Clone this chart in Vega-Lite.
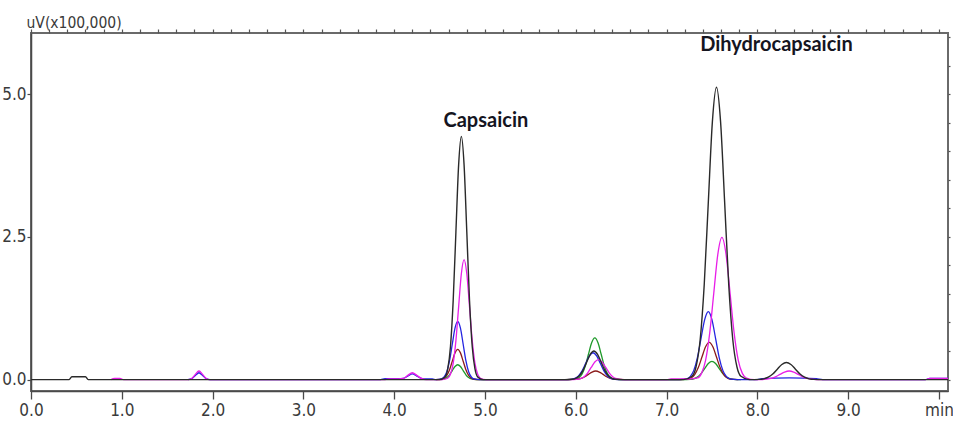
{
  "$schema": "https://vega.github.io/schema/vega-lite/v6.json",
  "width": 917,
  "height": 358,
  "autosize": {"type": "none"},
  "padding": {"left": 31, "top": 33, "right": 5, "bottom": 42},
  "background": "white",
  "config": {
    "view": {"stroke": "#6a6a6a", "strokeWidth": 2},
    "axis": {"grid": false, "labelFont": "Liberation Sans Narrow, DejaVu Sans Condensed, sans-serif", "titleFont": "Liberation Sans Narrow, DejaVu Sans Condensed, sans-serif"}
  },
  "datasets": {
    "black": [
      {"t": 0, "v": 0}, {"t": 0.42, "v": 0}, {"t": 0.45, "v": 0.05}, {"t": 0.6, "v": 0.05}, {"t": 0.63, "v": 0},
      {"t": 4.5, "v": 0}, {"t": 4.56, "v": 0.047}, {"t": 4.59, "v": 0.187}, {"t": 4.62, "v": 0.576}, {"t": 4.65, "v": 1.383}, {"t": 4.68, "v": 2.584}, {"t": 4.71, "v": 3.76}, {"t": 4.74, "v": 4.26}, {"t": 4.77, "v": 3.76}, {"t": 4.8, "v": 2.584}, {"t": 4.83, "v": 1.383}, {"t": 4.86, "v": 0.576}, {"t": 4.89, "v": 0.187}, {"t": 4.92, "v": 0.047}, {"t": 4.98, "v": 0},
      {"t": 5.88, "v": 0}, {"t": 5.96, "v": 0.006}, {"t": 6.0, "v": 0.022}, {"t": 6.04, "v": 0.068}, {"t": 6.08, "v": 0.162}, {"t": 6.12, "v": 0.303}, {"t": 6.16, "v": 0.441}, {"t": 6.2, "v": 0.5}, {"t": 6.24, "v": 0.441}, {"t": 6.28, "v": 0.303}, {"t": 6.32, "v": 0.162}, {"t": 6.36, "v": 0.068}, {"t": 6.4, "v": 0.022}, {"t": 6.44, "v": 0.006}, {"t": 6.52, "v": 0},
      {"t": 7.19, "v": 0}, {"t": 7.28, "v": 0.057}, {"t": 7.325, "v": 0.225}, {"t": 7.37, "v": 0.693}, {"t": 7.415, "v": 1.662}, {"t": 7.46, "v": 3.105}, {"t": 7.505, "v": 4.518}, {"t": 7.55, "v": 5.12}, {"t": 7.595, "v": 4.518}, {"t": 7.64, "v": 3.105}, {"t": 7.685, "v": 1.662}, {"t": 7.73, "v": 0.693}, {"t": 7.775, "v": 0.225}, {"t": 7.82, "v": 0.057}, {"t": 7.91, "v": 0},
      {"t": 8.02, "v": 0.003}, {"t": 8.07, "v": 0.013}, {"t": 8.12, "v": 0.041}, {"t": 8.17, "v": 0.097}, {"t": 8.22, "v": 0.182}, {"t": 8.27, "v": 0.265}, {"t": 8.32, "v": 0.3}, {"t": 8.37, "v": 0.265}, {"t": 8.42, "v": 0.182}, {"t": 8.47, "v": 0.097}, {"t": 8.52, "v": 0.041}, {"t": 8.57, "v": 0.013}, {"t": 8.62, "v": 0.003}, {"t": 8.72, "v": 0},
      {"t": 10.1, "v": 0}
    ],
    "magenta": [
      {"t": 0.88, "v": 0}, {"t": 0.92, "v": 0.02}, {"t": 0.98, "v": 0.02}, {"t": 1.02, "v": 0},
      {"t": 1.73, "v": 0}, {"t": 1.77, "v": 0.02}, {"t": 1.81, "v": 0.091}, {"t": 1.85, "v": 0.15}, {"t": 1.89, "v": 0.091}, {"t": 1.93, "v": 0.02}, {"t": 1.97, "v": 0},
      {"t": 3.9, "v": 0}, {"t": 3.95, "v": 0.012}, {"t": 4.05, "v": 0.012}, {"t": 4.1, "v": 0.02}, {"t": 4.15, "v": 0.073}, {"t": 4.2, "v": 0.12}, {"t": 4.25, "v": 0.073}, {"t": 4.3, "v": 0.02}, {"t": 4.35, "v": 0},
      {"t": 4.53, "v": 0}, {"t": 4.59, "v": 0.023}, {"t": 4.62, "v": 0.092}, {"t": 4.65, "v": 0.284}, {"t": 4.68, "v": 0.682}, {"t": 4.71, "v": 1.274}, {"t": 4.74, "v": 1.853}, {"t": 4.77, "v": 2.1}, {"t": 4.8, "v": 1.853}, {"t": 4.83, "v": 1.274}, {"t": 4.86, "v": 0.682}, {"t": 4.89, "v": 0.284}, {"t": 4.92, "v": 0.092}, {"t": 4.95, "v": 0.023}, {"t": 5.01, "v": 0},
      {"t": 5.93, "v": 0}, {"t": 6.01, "v": 0.004}, {"t": 6.05, "v": 0.015}, {"t": 6.09, "v": 0.047}, {"t": 6.13, "v": 0.114}, {"t": 6.17, "v": 0.212}, {"t": 6.21, "v": 0.309}, {"t": 6.25, "v": 0.35}, {"t": 6.29, "v": 0.309}, {"t": 6.33, "v": 0.212}, {"t": 6.37, "v": 0.114}, {"t": 6.41, "v": 0.047}, {"t": 6.45, "v": 0.015}, {"t": 6.49, "v": 0.004}, {"t": 6.57, "v": 0},
      {"t": 7.0, "v": 0}, {"t": 7.05, "v": 0.01}, {"t": 7.2, "v": 0.01},
      {"t": 7.25, "v": 0.01}, {"t": 7.34, "v": 0.028}, {"t": 7.385, "v": 0.109}, {"t": 7.43, "v": 0.337}, {"t": 7.475, "v": 0.809}, {"t": 7.52, "v": 1.51}, {"t": 7.565, "v": 2.197}, {"t": 7.61, "v": 2.49}, {"t": 7.655, "v": 2.197}, {"t": 7.7, "v": 1.51}, {"t": 7.745, "v": 0.809}, {"t": 7.79, "v": 0.337}, {"t": 7.835, "v": 0.109}, {"t": 7.88, "v": 0.028}, {"t": 7.97, "v": 0},
      {"t": 8.05, "v": 0}, {"t": 8.15, "v": 0.02}, {"t": 8.2, "v": 0.049}, {"t": 8.25, "v": 0.091}, {"t": 8.3, "v": 0.132}, {"t": 8.35, "v": 0.15}, {"t": 8.4, "v": 0.132}, {"t": 8.45, "v": 0.091}, {"t": 8.5, "v": 0.049}, {"t": 8.55, "v": 0.02}, {"t": 8.65, "v": 0},
      {"t": 9.85, "v": 0}, {"t": 9.9, "v": 0.02}, {"t": 10.1, "v": 0.02}
    ],
    "blue": [
      {"t": 1.73, "v": 0}, {"t": 1.77, "v": 0.016}, {"t": 1.81, "v": 0.073}, {"t": 1.85, "v": 0.12}, {"t": 1.89, "v": 0.073}, {"t": 1.93, "v": 0.016}, {"t": 1.97, "v": 0},
      {"t": 3.85, "v": 0}, {"t": 3.9, "v": 0.015}, {"t": 4.05, "v": 0.015}, {"t": 4.1, "v": 0.02}, {"t": 4.15, "v": 0.061}, {"t": 4.2, "v": 0.1}, {"t": 4.25, "v": 0.061}, {"t": 4.3, "v": 0.02}, {"t": 4.35, "v": 0.01}, {"t": 4.42, "v": 0.01}, {"t": 4.46, "v": 0},
      {"t": 4.52, "v": 0.011}, {"t": 4.55, "v": 0.045}, {"t": 4.58, "v": 0.138}, {"t": 4.61, "v": 0.331}, {"t": 4.64, "v": 0.619}, {"t": 4.67, "v": 0.9}, {"t": 4.7, "v": 1.02}, {"t": 4.73, "v": 0.9}, {"t": 4.76, "v": 0.619}, {"t": 4.79, "v": 0.331}, {"t": 4.82, "v": 0.138}, {"t": 4.85, "v": 0.045}, {"t": 4.88, "v": 0.011}, {"t": 4.94, "v": 0},
      {"t": 5.87, "v": 0}, {"t": 5.95, "v": 0.005}, {"t": 5.99, "v": 0.021}, {"t": 6.03, "v": 0.064}, {"t": 6.07, "v": 0.153}, {"t": 6.11, "v": 0.285}, {"t": 6.15, "v": 0.415}, {"t": 6.19, "v": 0.47}, {"t": 6.23, "v": 0.415}, {"t": 6.27, "v": 0.285}, {"t": 6.31, "v": 0.153}, {"t": 6.35, "v": 0.064}, {"t": 6.39, "v": 0.021}, {"t": 6.43, "v": 0.005}, {"t": 6.51, "v": 0},
      {"t": 7.14, "v": 0}, {"t": 7.22, "v": 0.013}, {"t": 7.26, "v": 0.052}, {"t": 7.3, "v": 0.161}, {"t": 7.34, "v": 0.386}, {"t": 7.38, "v": 0.722}, {"t": 7.42, "v": 1.05}, {"t": 7.46, "v": 1.19}, {"t": 7.5, "v": 1.05}, {"t": 7.54, "v": 0.722}, {"t": 7.58, "v": 0.386}, {"t": 7.62, "v": 0.161}, {"t": 7.66, "v": 0.052}, {"t": 7.7, "v": 0.013}, {"t": 7.78, "v": 0},
      {"t": 8.0, "v": 0}, {"t": 8.05, "v": 0.015}, {"t": 8.35, "v": 0.03}, {"t": 8.65, "v": 0.015}, {"t": 8.72, "v": 0},
      {"t": 9.85, "v": 0}, {"t": 9.9, "v": 0.02}, {"t": 10.1, "v": 0.02}
    ],
    "maroon": [
      {"t": 4.46, "v": 0}, {"t": 4.52, "v": 0.006}, {"t": 4.55, "v": 0.023}, {"t": 4.58, "v": 0.072}, {"t": 4.61, "v": 0.172}, {"t": 4.64, "v": 0.321}, {"t": 4.67, "v": 0.468}, {"t": 4.7, "v": 0.53}, {"t": 4.73, "v": 0.468}, {"t": 4.76, "v": 0.321}, {"t": 4.79, "v": 0.172}, {"t": 4.82, "v": 0.072}, {"t": 4.85, "v": 0.023}, {"t": 4.88, "v": 0.006}, {"t": 4.94, "v": 0},
      {"t": 5.9, "v": 0}, {"t": 6.02, "v": 0.007}, {"t": 6.06, "v": 0.02}, {"t": 6.1, "v": 0.049}, {"t": 6.14, "v": 0.091}, {"t": 6.18, "v": 0.132}, {"t": 6.22, "v": 0.15}, {"t": 6.26, "v": 0.132}, {"t": 6.3, "v": 0.091}, {"t": 6.34, "v": 0.049}, {"t": 6.38, "v": 0.02}, {"t": 6.42, "v": 0.007}, {"t": 6.54, "v": 0},
      {"t": 7.15, "v": 0}, {"t": 7.23, "v": 0.007}, {"t": 7.27, "v": 0.029}, {"t": 7.31, "v": 0.088}, {"t": 7.35, "v": 0.211}, {"t": 7.39, "v": 0.394}, {"t": 7.43, "v": 0.574}, {"t": 7.47, "v": 0.65}, {"t": 7.51, "v": 0.574}, {"t": 7.55, "v": 0.394}, {"t": 7.59, "v": 0.211}, {"t": 7.63, "v": 0.088}, {"t": 7.67, "v": 0.029}, {"t": 7.71, "v": 0.007}, {"t": 7.79, "v": 0}
    ],
    "green": [
      {"t": 4.52, "v": 0}, {"t": 4.55, "v": 0.011}, {"t": 4.58, "v": 0.035}, {"t": 4.61, "v": 0.084}, {"t": 4.64, "v": 0.158}, {"t": 4.67, "v": 0.229}, {"t": 4.7, "v": 0.26}, {"t": 4.73, "v": 0.229}, {"t": 4.76, "v": 0.158}, {"t": 4.79, "v": 0.084}, {"t": 4.82, "v": 0.035}, {"t": 4.85, "v": 0.011}, {"t": 4.91, "v": 0},
      {"t": 5.93, "v": 0}, {"t": 6.0, "v": 0.008}, {"t": 6.035, "v": 0.032}, {"t": 6.07, "v": 0.099}, {"t": 6.105, "v": 0.237}, {"t": 6.14, "v": 0.443}, {"t": 6.175, "v": 0.644}, {"t": 6.21, "v": 0.73}, {"t": 6.245, "v": 0.644}, {"t": 6.28, "v": 0.443}, {"t": 6.315, "v": 0.237}, {"t": 6.35, "v": 0.099}, {"t": 6.385, "v": 0.032}, {"t": 6.42, "v": 0.008}, {"t": 6.49, "v": 0},
      {"t": 7.18, "v": 0}, {"t": 7.26, "v": 0.004}, {"t": 7.3, "v": 0.014}, {"t": 7.34, "v": 0.043}, {"t": 7.38, "v": 0.104}, {"t": 7.42, "v": 0.194}, {"t": 7.46, "v": 0.282}, {"t": 7.5, "v": 0.32}, {"t": 7.54, "v": 0.282}, {"t": 7.58, "v": 0.194}, {"t": 7.62, "v": 0.104}, {"t": 7.66, "v": 0.043}, {"t": 7.7, "v": 0.014}, {"t": 7.74, "v": 0.004}, {"t": 7.82, "v": 0}
    ],
    "labels": [
      {"t": 5.01, "v": 4.43, "label": "Capsaicin"},
      {"t": 8.21, "v": 5.76, "label": "Dihydrocapsaicin"}
    ]
  },
  "resolve": {"axis": {"x": "independent", "y": "independent"}},
  "layer": [
    {
      "data": {"name": "green"},
      "mark": {"type": "line", "interpolate": "monotone", "color": "#1f9a2a", "strokeWidth": 1.3},
      "encoding": {
        "x": {"field": "t", "type": "quantitative", "scale": {"domain": [0, 10.1], "nice": false, "zero": false},
          "axis": {"values": [0, 1, 2, 3, 4, 5, 6, 7, 8, 9, 10], "labelExpr": "datum.value == 10 ? 'min' : format(datum.value, '.1f')", "title": null, "domainColor": "#4a4a4a", "domainWidth": 1.6, "tickColor": "#4a4a4a", "tickWidth": 1.3, "tickSize": 8, "labelFontSize": 17, "labelColor": "#3a3a3a", "labelPadding": 3, "labelFlush": false, "labelOverlap": false}},
        "y": {"field": "v", "type": "quantitative", "scale": {"domain": [-0.2, 6.07], "nice": false, "zero": false},
          "axis": {"values": [0, 2.5, 5], "format": ".1f", "title": "uV(x100,000)", "titleAngle": 0, "titleAlign": "left", "titleBaseline": "alphabetic", "titleX": -5, "titleY": -6, "titleFontSize": 15.5, "titleFontWeight": "normal", "titleColor": "#3a3a3a", "domainColor": "#4a4a4a", "domainWidth": 1.5, "tickColor": "#4a4a4a", "tickWidth": 1.2, "tickSize": 4, "labelFontSize": 17, "labelColor": "#3a3a3a", "labelPadding": 1, "labelOverlap": false}}
      }
    },
    {
      "data": {"name": "maroon"},
      "mark": {"type": "line", "interpolate": "monotone", "color": "#8b1a1a", "strokeWidth": 1.3},
      "encoding": {
        "x": {"field": "t", "type": "quantitative",
          "axis": {"values": [0, 0.2, 0.4, 0.6, 0.8, 1, 1.2, 1.4, 1.6, 1.8, 2, 2.2, 2.4, 2.6, 2.8, 3, 3.2, 3.4, 3.6, 3.8, 4, 4.2, 4.4, 4.6, 4.8, 5, 5.2, 5.4, 5.6, 5.8, 6, 6.2, 6.4, 6.6, 6.8, 7, 7.2, 7.4, 7.6, 7.8, 8, 8.2, 8.4, 8.6, 8.8, 9, 9.2, 9.4, 9.6, 9.8, 10], "labels": false, "domain": false, "title": null, "tickColor": "#555555", "tickWidth": 1.2, "tickSize": 4}},
        "y": {"field": "v", "type": "quantitative",
          "axis": {"values": [0, 0.5, 1, 1.5, 2, 2.5, 3, 3.5, 4, 4.5, 5, 5.5, 6], "labels": false, "domain": false, "title": null, "tickColor": "#555555", "tickWidth": 1.2, "tickSize": 2}}
      }
    },
    {
      "data": {"name": "blue"},
      "mark": {"type": "line", "interpolate": "monotone", "color": "#2424e0", "strokeWidth": 1.3},
      "encoding": {
        "x": {"field": "t", "type": "quantitative", "axis": null},
        "y": {"field": "v", "type": "quantitative", "axis": null}
      }
    },
    {
      "data": {"name": "magenta"},
      "mark": {"type": "line", "interpolate": "monotone", "color": "#e81ee8", "strokeWidth": 1.3},
      "encoding": {
        "x": {"field": "t", "type": "quantitative", "axis": null},
        "y": {"field": "v", "type": "quantitative", "axis": null}
      }
    },
    {
      "data": {"name": "black"},
      "mark": {"type": "line", "interpolate": "monotone", "color": "#2a2a2a", "strokeWidth": 1.4},
      "encoding": {
        "x": {"field": "t", "type": "quantitative", "axis": null},
        "y": {"field": "v", "type": "quantitative", "axis": null}
      }
    },
    {
      "data": {"name": "labels"},
      "mark": {"type": "text", "font": "Lato", "fontWeight": "bold", "fontSize": 20, "color": "#15151f", "align": "center", "baseline": "alphabetic"},
      "encoding": {
        "x": {"field": "t", "type": "quantitative", "axis": null},
        "y": {"field": "v", "type": "quantitative", "axis": null},
        "text": {"field": "label"}
      }
    }
  ]
}
